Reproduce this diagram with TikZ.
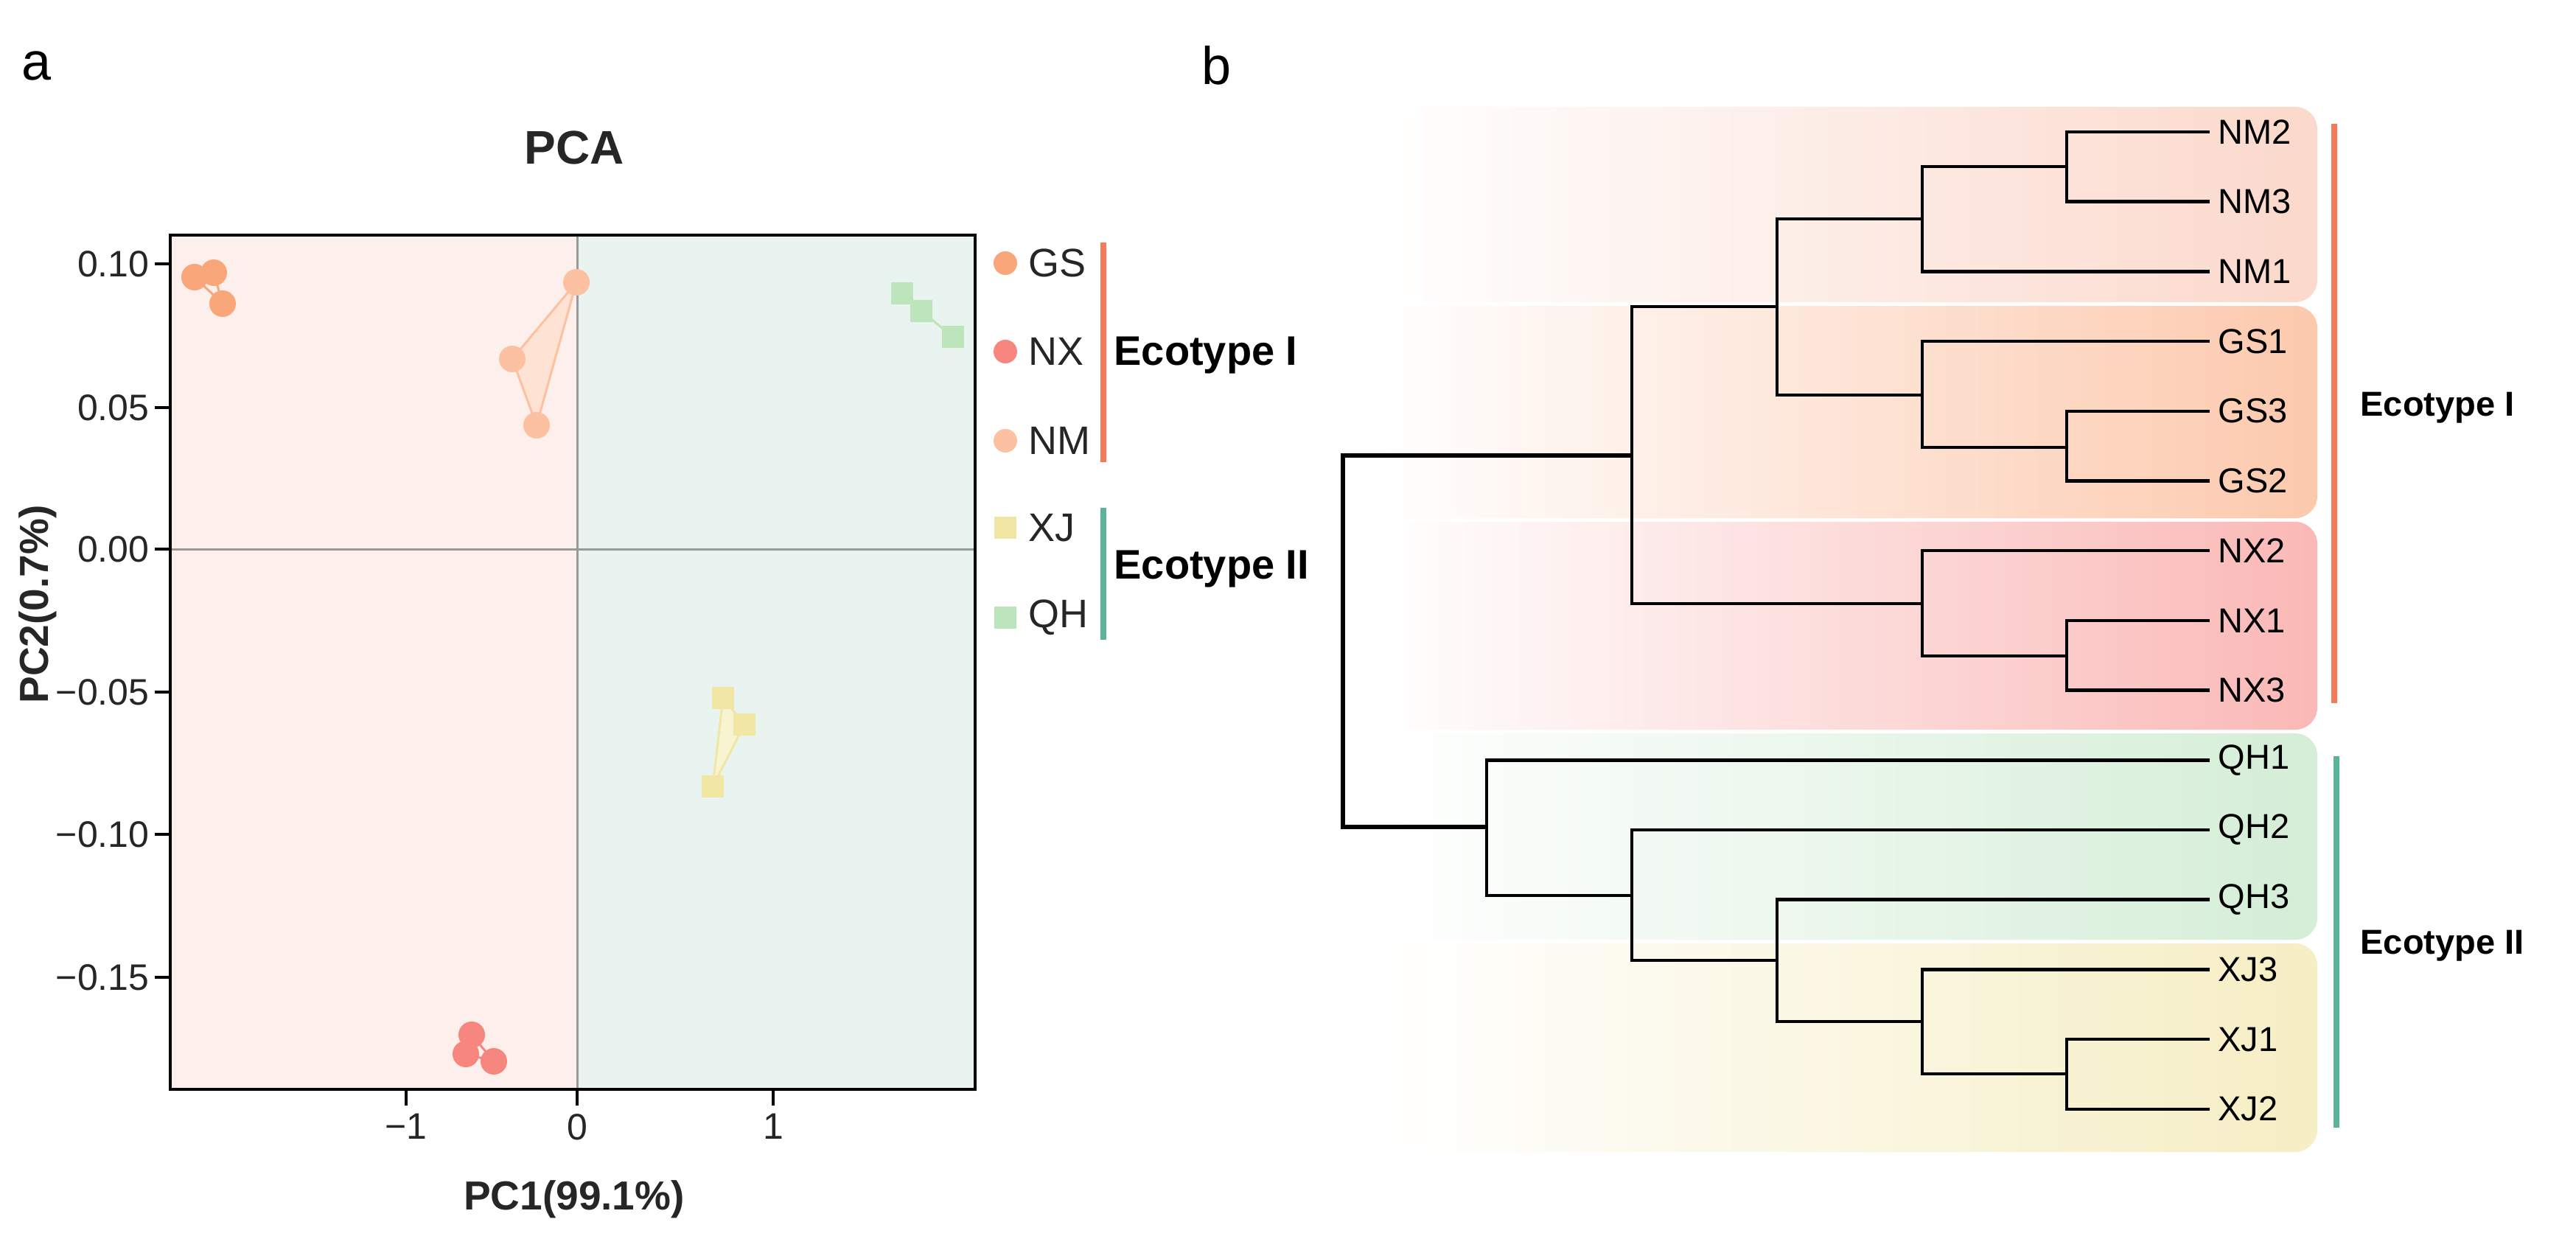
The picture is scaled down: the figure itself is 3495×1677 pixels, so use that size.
\documentclass[tikz,border=0pt]{standalone}
\usepackage{fontspec}
\setmainfont{Liberation Sans}
\usetikzlibrary{shapes.geometric}
\definecolor{bgL}{HTML}{FDF0EC}
\definecolor{bgR}{HTML}{E9F3F0}
\definecolor{cGS}{HTML}{F9A77A}
\definecolor{cNX}{HTML}{F7867E}
\definecolor{cNM}{HTML}{FCC1A0}
\definecolor{cXJ}{HTML}{F1E6A3}
\definecolor{cQH}{HTML}{BDE5BC}
\definecolor{barO}{HTML}{F47A5A}
\definecolor{barG}{HTML}{5BB39A}
\definecolor{bNM}{HTML}{F9C5B2}
\definecolor{bGS}{HTML}{FBAE84}
\definecolor{bNX}{HTML}{F79592}
\definecolor{bQH}{HTML}{BFE5C3}
\definecolor{bXJ}{HTML}{F1E5A6}
\pgfdeclarehorizontalshading{shNM}{100bp}{color(0bp)=(white); color(25bp)=(white); color(100bp)=(bNM)}
\pgfdeclarehorizontalshading{shGS}{100bp}{color(0bp)=(white); color(25bp)=(white); color(100bp)=(bGS)}
\pgfdeclarehorizontalshading{shNX}{100bp}{color(0bp)=(white); color(25bp)=(white); color(100bp)=(bNX)}
\pgfdeclarehorizontalshading{shQH}{100bp}{color(0bp)=(white); color(25bp)=(white); color(100bp)=(bQH)}
\pgfdeclarehorizontalshading{shXJ}{100bp}{color(0bp)=(white); color(25bp)=(white); color(100bp)=(bXJ)}
\begin{document}
\begin{tikzpicture}[x=1pt,y=-1pt,
  tick/.style={font=\fontsize{50}{55}\selectfont, text=black!85},
  dot/.style={circle, minimum size=36pt, inner sep=0pt},
  sq/.style={rectangle, minimum size=30pt, inner sep=0pt},
  leaf/.style={anchor=west, font=\fontsize{47}{50}\selectfont},
  branch/.style={line width=4.5pt},
  eco/.style={anchor=west, font=\bfseries\fontsize{47}{50}\selectfont},
  ecoA/.style={anchor=west, font=\bfseries\fontsize{56}{60}\selectfont},
  lg/.style={anchor=west, font=\fontsize{54}{58}\selectfont, text=black!85},
  box/.style={rounded corners=30pt}]
\useasboundingbox (0,0) rectangle (3495,1677);
% ===== panel a =====
\node[font=\fontsize{72}{76}\selectfont] (la) at (50,89) {a};
\node[font=\bfseries\fontsize{64}{68}\selectfont, text=black!85] (title) at (779,200) {PCA};
\fill[bgL] (231,319) rectangle (783,1478);
\fill[bgR] (783,319) rectangle (1323,1478);
\draw[gray!80, line width=3pt] (783,319) -- (783,1478);
\draw[gray!80, line width=3pt] (231,745) -- (1323,745);
\draw[line width=4pt] (231,319) rectangle (1323,1478);
\foreach \y/\t in {358/0.10,553/0.05,745/0.00,939/−0.05,1132/−0.10,1326/−0.15}{
  \draw[line width=4pt] (231,\y) -- (210,\y);
  \node[tick, anchor=east] at (206,\y) {\t};}
\foreach \x/\t in {551/−1,783/0,1049/1}{
  \draw[line width=4pt] (\x,1478) -- (\x,1500);
  \node[tick, anchor=north] at (\x,1508) {\t};}
\node[font=\bfseries\fontsize{55}{60}\selectfont, text=black!85] (xl) at (779,1627) {PC1(99.1\%)};
\node[font=\bfseries\fontsize{55}{60}\selectfont, text=black!85, rotate=90] (yl) at (51,820) {PC2(0.7\%)};
% groups
\fill[cNM!45] (782,383) -- (695,487) -- (728,577) -- cycle;
\draw[cNM, line width=3pt] (782,383) -- (695,487) -- (728,577) -- cycle;
\fill[cXJ!50] (981,947) -- (1010,983) -- (967,1067) -- cycle;
\draw[cXJ, line width=3pt] (981,947) -- (1010,983) -- (967,1067) -- cycle;
\draw[cGS, line width=3pt] (264,376) -- (290,370) -- (302,412) -- cycle;
\draw[cNX, line width=3pt] (640,1404) -- (632,1430) -- (670,1440) -- cycle;
\draw[cQH, line width=3pt] (1224,398) -- (1250,422) -- (1293,457);
\node[dot, fill=cGS] (gs1) at (264,376) {};
\node[dot, fill=cGS] (gs2) at (290,370) {};
\node[dot, fill=cGS] (gs3) at (302,412) {};
\node[dot, fill=cNM] (nm1) at (782,383) {};
\node[dot, fill=cNM] (nm2) at (695,487) {};
\node[dot, fill=cNM] (nm3) at (728,577) {};
\node[dot, fill=cNX] (nx1) at (640,1404) {};
\node[dot, fill=cNX] (nx2) at (632,1430) {};
\node[dot, fill=cNX] (nx3) at (670,1440) {};
\node[sq, fill=cXJ] (xj1) at (981,947) {};
\node[sq, fill=cXJ] (xj2) at (1010,983) {};
\node[sq, fill=cXJ] (xj3) at (967,1067) {};
\node[sq, fill=cQH] (qh1) at (1224,398) {};
\node[sq, fill=cQH] (qh2) at (1250,422) {};
\node[sq, fill=cQH] (qh3) at (1293,457) {};
% legend
\node[circle, minimum size=32pt, inner sep=0pt, fill=cGS] (mGS) at (1364,357) {};
\node[circle, minimum size=32pt, inner sep=0pt, fill=cNX] (mNX) at (1364,477) {};
\node[circle, minimum size=32pt, inner sep=0pt, fill=cNM] (mNM) at (1364,598) {};
\node[sq, fill=cXJ] (mXJ) at (1364,716) {};
\node[sq, fill=cQH] (mQH) at (1364,838) {};
\node[lg] (tGS) at (1392,357) {GS};
\node[lg] (tNX) at (1392,477) {NX};
\node[lg] (tNM) at (1392,598) {NM};
\node[lg] (tXJ) at (1392,716) {XJ};
\node[lg] (tQH) at (1392,838) {QH};
\draw[barO, line width=8pt] (1497,329) -- (1497,627);
\draw[barG, line width=8pt] (1497,689) -- (1497,868);
\node[ecoA] (e1a) at (1508,482) {Ecotype I};
\node[ecoA] (e2a) at (1508,772) {Ecotype II};
% ===== panel b =====
\node[font=\fontsize{72}{76}\selectfont] (lb) at (1650,89) {b};
\path[box, shading=shNM] (1870,145) rectangle (3144,410);
\path[box, shading=shGS] (1870,415) rectangle (3144,703);
\path[box, shading=shNX] (1870,708) rectangle (3144,990);
\path[box, shading=shQH] (1870,995) rectangle (3144,1275);
\path[box, shading=shXJ] (1870,1280) rectangle (3144,1563);
\foreach \n/\t [count=\i from 0] in {a/NM2,b/NM3,c/NM1,d/GS1,e/GS3,f/GS2,g/NX2,h/NX1,k/NX3,l/QH1,m/QH2,n/QH3,o/XJ3,p/XJ1,q/XJ2}{
  \coordinate (L\n) at (2998,{179+94.7*\i});
  \node[leaf] (T\n) at (3006,{179+94.7*\i}) {\t};}
% internal nodes
\coordinate (jNM23) at (2804,226);
\coordinate (jNM) at (2608,297);
\coordinate (jGS32) at (2804,607);
\coordinate (jGS) at (2608,536);
\coordinate (jNMGS) at (2411,416);
\coordinate (jNX13) at (2804,890);
\coordinate (jNX) at (2608,819);
\coordinate (jE1) at (2214,618);
\coordinate (jXJ12) at (2804,1457);
\coordinate (jXJ) at (2608,1386);
\coordinate (jQ3X) at (2411,1303);
\coordinate (jQ2) at (2214,1215);
\coordinate (jE2) at (2017,1122);
\coordinate (root) at (1822,870);
\draw[branch] (jNM23) |- (La); \draw[branch] (jNM23) |- (Lb);
\draw[branch] (jNM) |- (jNM23); \draw[branch] (jNM) |- (Lc);
\draw[branch] (jGS32) |- (Le); \draw[branch] (jGS32) |- (Lf);
\draw[branch] (jGS) |- (Ld); \draw[branch] (jGS) |- (jGS32);
\draw[branch] (jNMGS) |- (jNM); \draw[branch] (jNMGS) |- (jGS);
\draw[branch] (jNX13) |- (Lh); \draw[branch] (jNX13) |- (Lk);
\draw[branch] (jNX) |- (Lg); \draw[branch] (jNX) |- (jNX13);
\draw[branch] (jE1) |- (jNMGS); \draw[branch] (jE1) |- (jNX);
\draw[branch] (jXJ12) |- (Lp); \draw[branch] (jXJ12) |- (Lq);
\draw[branch] (jXJ) |- (Lo); \draw[branch] (jXJ) |- (jXJ12);
\draw[branch] (jQ3X) |- (Ln); \draw[branch] (jQ3X) |- (jXJ);
\draw[branch] (jQ2) |- (Lm); \draw[branch] (jQ2) |- (jQ3X);
\draw[branch] (jE2) |- (Ll); \draw[branch] (jE2) |- (jQ2);
\draw[branch, line width=6pt] (root) |- (jE1); \draw[branch, line width=6pt] (root) |- (jE2);
\draw[barO, line width=8pt] (3167,168) -- (3167,954);
\draw[barG, line width=8pt] (3170,1026) -- (3170,1530);
\node[eco] (e1b) at (3199,553) {Ecotype I};
\node[eco] (e2b) at (3199,1283) {Ecotype II};
\end{tikzpicture}
\end{document}
